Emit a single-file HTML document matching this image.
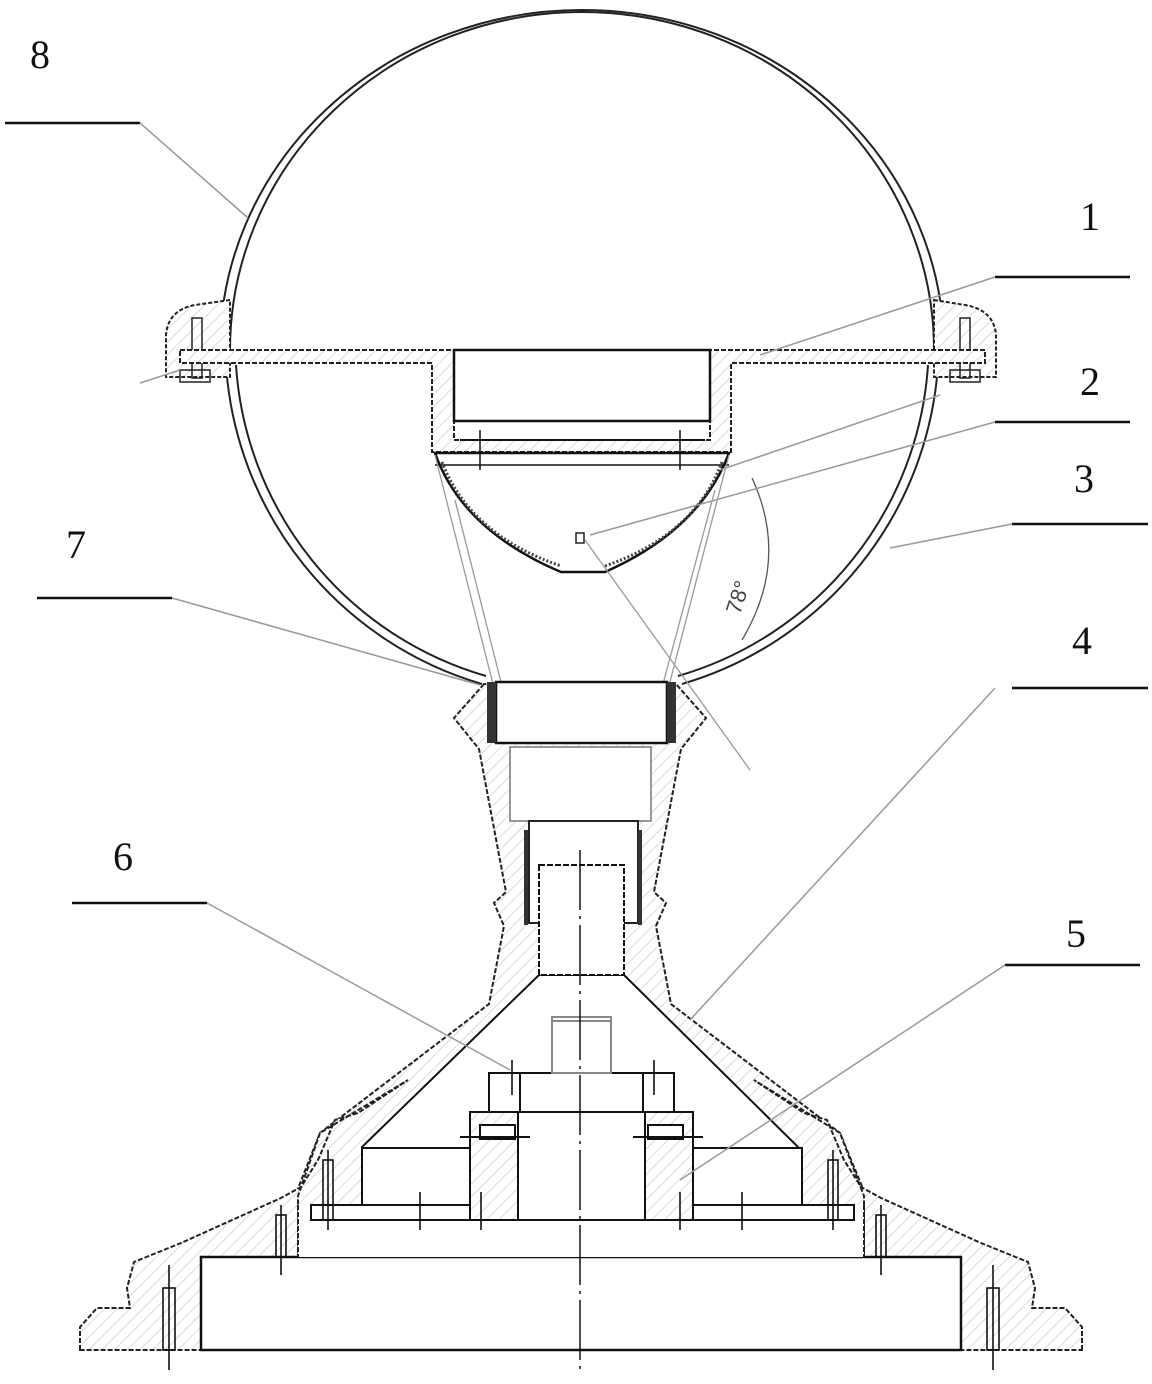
<!DOCTYPE html>
<html><head><style>
html,body{margin:0;padding:0;background:#fff;}
svg{display:block;}
text{font-family:"Liberation Serif",serif;font-size:40px;fill:#111;}
</style></head><body>
<svg width="1152" height="1384" viewBox="0 0 1152 1384" xmlns="http://www.w3.org/2000/svg">
<defs>
<pattern id="h" width="9" height="9" patternUnits="userSpaceOnUse" patternTransform="rotate(45)">
<rect width="9" height="9" fill="#fff"/><line x1="0" y1="0" x2="0" y2="9" stroke="#c8c8c8" stroke-width="1.3"/>
</pattern>
</defs>

<!-- Sphere -->
<path d="M230,350 A352,338 0 1 1 934,350" fill="none" stroke="#222" stroke-width="2"/>
<path d="M220,350 A362,340 0 1 1 944,350" fill="none" stroke="#222" stroke-width="2"/>
<path d="M226,365 A357,357 0 0 0 482,684" fill="none" stroke="#222" stroke-width="2"/>
<path d="M236,365 A347,347 0 0 0 486,676" fill="none" stroke="#222" stroke-width="2"/>
<path d="M938,365 A357,357 0 0 1 682,684" fill="none" stroke="#222" stroke-width="2"/>
<path d="M928,365 A347,347 0 0 1 678,676" fill="none" stroke="#222" stroke-width="2"/>

<!-- Ears -->
<path d="M230,300 L195,305 Q168,310 166,335 L166,377 L230,377 Z" fill="url(#h)" stroke="#222" stroke-width="2" stroke-dasharray="4,2"/>
<path d="M934,300 L965,305 Q994,310 996,335 L996,377 L934,377 Z" fill="url(#h)" stroke="#222" stroke-width="2" stroke-dasharray="4,2"/>
<rect x="192" y="318" width="10" height="60" fill="none" stroke="#222" stroke-width="1.5"/>
<rect x="960" y="318" width="10" height="60" fill="none" stroke="#222" stroke-width="1.5"/>
<rect x="180" y="370" width="30" height="12" fill="none" stroke="#222" stroke-width="1.5"/>
<rect x="950" y="370" width="30" height="12" fill="none" stroke="#222" stroke-width="1.5"/>

<!-- Flange with cup -->
<path d="M180,350 L454,350 L454,440 L710,440 L710,350 L985,350 L985,363 L731,363 L731,452 L432,452 L432,363 L180,363 Z" fill="url(#h)" stroke="#222" stroke-width="2" stroke-dasharray="5,2"/>
<rect x="454" y="350" width="256" height="71" fill="#fff" stroke="#111" stroke-width="2.5"/>
<line x1="460" y1="440" x2="705" y2="440" stroke="#111" stroke-width="2"/>
<line x1="480" y1="430" x2="480" y2="470" stroke="#111" stroke-width="1.5"/>
<line x1="680" y1="430" x2="680" y2="470" stroke="#111" stroke-width="1.5"/>
<line x1="435" y1="465" x2="729" y2="465" stroke="#111" stroke-width="1.5"/>
<!-- Bowl -->
<path d="M435,453 L729,453 Q700,530 605,572 L561,572 Q462,530 435,453 Z" fill="none" stroke="#111" stroke-width="2.5"/>
<path d="M442,462 Q470,535 561,566 M605,566 Q695,535 722,462" fill="none" stroke="#444" stroke-width="3" stroke-dasharray="2,2"/>
<rect x="576" y="533" width="8" height="10" fill="none" stroke="#222" stroke-width="1.5"/>

<!-- Light rays -->
<g stroke="#999" stroke-width="1.3" fill="none">
<line x1="435" y1="455" x2="578" y2="1020"/>
<line x1="729" y1="455" x2="582" y2="1020"/>
<line x1="455" y1="500" x2="575" y2="975"/>
<line x1="715" y1="490" x2="585" y2="975"/>
<line x1="585" y1="540" x2="750" y2="770"/>
<path d="M752,478 Q790,560 742,640" stroke="#555"/>
</g>
<text x="720" y="608" transform="rotate(-72 735 598)" style="font-size:22px;font-family:'Liberation Sans',sans-serif;fill:#444">78°</text>

<!-- Neck -->
<path d="M484,684 L454,718 L479,749 L506,892 L494,903 L504,926 L489,1004 L320,1133 L295,1196 L298,1257 L864,1257 L866,1196 L840,1133 L671,1004 L656,926 L666,903 L654,892 L681,749 L706,718 L676,684 Z" fill="url(#h)" stroke="#222" stroke-width="2" stroke-dasharray="5,2"/>
<path d="M539,975 L362,1147 L362,1257 L798,1257 L798,1147 L624,975 Z" fill="#fff" stroke="#111" stroke-width="2"/>
<rect x="496" y="682" width="171" height="61" fill="#fff" stroke="#111" stroke-width="2.5"/>
<rect x="487" y="682" width="9" height="61" fill="#333"/>
<rect x="667" y="682" width="9" height="61" fill="#333"/>
<rect x="510" y="747" width="141" height="74" fill="#fff" stroke="#777" stroke-width="1.5"/>
<rect x="529" y="821" width="109" height="102" fill="#fff" stroke="#222" stroke-width="2"/>
<rect x="539" y="865" width="85" height="110" fill="#fff" stroke="#111" stroke-width="2" stroke-dasharray="6,2"/>
<line x1="526" y1="830" x2="526" y2="925" stroke="#333" stroke-width="4"/>
<line x1="640" y1="830" x2="640" y2="925" stroke="#333" stroke-width="4"/>

<!-- Base -->
<path d="M80,1350 L80,1327 L97,1308 L130,1308 L127,1288 L134,1262 L181,1243 L281,1198 L301,1187 L318,1160 L335,1120 L358,1113 L408,1080 L320,1133 L298,1196 L298,1257 L201,1257 L201,1350 Z" fill="url(#h)" stroke="#222" stroke-width="2" stroke-dasharray="5,2"/>
<path d="M1082,1350 L1082,1327 L1065,1308 L1032,1308 L1035,1288 L1028,1262 L981,1243 L881,1198 L861,1187 L844,1160 L827,1120 L804,1113 L754,1080 L840,1133 L864,1196 L864,1257 L961,1257 L961,1350 Z" fill="url(#h)" stroke="#222" stroke-width="2" stroke-dasharray="5,2"/>
<rect x="201" y="1257" width="760" height="93" fill="#fff" stroke="#111" stroke-width="2.5"/>
<rect x="298" y="1205" width="566" height="52" fill="#fff" stroke="none"/>
<line x1="298" y1="1205" x2="298" y2="1257" stroke="#222" stroke-width="2" stroke-dasharray="5,2"/>
<line x1="864" y1="1205" x2="864" y2="1257" stroke="#222" stroke-width="2" stroke-dasharray="5,2"/>

<!-- Internal parts -->
<rect x="362" y="1148" width="108" height="57" fill="#fff" stroke="#111" stroke-width="2"/>
<rect x="693" y="1148" width="109" height="57" fill="#fff" stroke="#111" stroke-width="2"/>
<rect x="311" y="1205" width="543" height="15" fill="#fff" stroke="#111" stroke-width="2"/>
<rect x="470" y="1112" width="223" height="108" fill="#fff" stroke="#111" stroke-width="2"/>
<rect x="470" y="1112" width="48" height="108" fill="url(#h)" stroke="#111" stroke-width="2"/>
<rect x="645" y="1112" width="48" height="108" fill="url(#h)" stroke="#111" stroke-width="2"/>
<rect x="480" y="1125" width="35" height="14" fill="#fff" stroke="#111" stroke-width="2"/>
<rect x="648" y="1125" width="35" height="14" fill="#fff" stroke="#111" stroke-width="2"/>
<line x1="460" y1="1137" x2="530" y2="1137" stroke="#111" stroke-width="2"/>
<line x1="633" y1="1137" x2="703" y2="1137" stroke="#111" stroke-width="2"/>
<rect x="489" y="1073" width="185" height="39" fill="#fff" stroke="#111" stroke-width="2"/>
<line x1="520" y1="1073" x2="520" y2="1112" stroke="#111" stroke-width="2"/>
<line x1="643" y1="1073" x2="643" y2="1112" stroke="#111" stroke-width="2"/>
<rect x="552" y="1017" width="59" height="56" fill="#fff" stroke="#888" stroke-width="2"/>
<line x1="552" y1="1021" x2="611" y2="1021" stroke="#888" stroke-width="2"/>

<!-- bolts -->
<g stroke="#111" stroke-width="1.6" fill="none">
<rect x="323" y="1160" width="10" height="60"/><line x1="328" y1="1150" x2="328" y2="1230"/>
<rect x="828" y="1160" width="10" height="60"/><line x1="833" y1="1150" x2="833" y2="1230"/>
<rect x="276" y="1215" width="10" height="42"/><line x1="281" y1="1205" x2="281" y2="1275"/>
<rect x="876" y="1215" width="10" height="42"/><line x1="881" y1="1205" x2="881" y2="1275"/>
<rect x="163" y="1288" width="12" height="62"/><line x1="169" y1="1265" x2="169" y2="1370"/>
<rect x="987" y="1288" width="12" height="62"/><line x1="993" y1="1265" x2="993" y2="1370"/>
<line x1="420" y1="1192" x2="420" y2="1230"/><line x1="742" y1="1192" x2="742" y2="1230"/>
<line x1="481" y1="1192" x2="481" y2="1230"/><line x1="680" y1="1192" x2="680" y2="1230"/>
<line x1="512" y1="1060" x2="512" y2="1095"/><line x1="654" y1="1060" x2="654" y2="1095"/>
</g>

<!-- Centre axis -->
<line x1="580" y1="850" x2="580" y2="1375" stroke="#111" stroke-width="1.5" stroke-dasharray="60,6,3,6"/>

<!-- Leaders -->
<g stroke="#111" stroke-width="2.5">
<line x1="5" y1="123" x2="140" y2="123"/>
<line x1="995" y1="277" x2="1130" y2="277"/>
<line x1="995" y1="422" x2="1130" y2="422"/>
<line x1="1012" y1="524" x2="1148" y2="524"/>
<line x1="37" y1="598" x2="172" y2="598"/>
<line x1="1012" y1="688" x2="1148" y2="688"/>
<line x1="72" y1="903" x2="207" y2="903"/>
<line x1="1005" y1="965" x2="1140" y2="965"/>
</g>
<g stroke="#999" stroke-width="1.5">
<line x1="140" y1="123" x2="248" y2="218"/>
<line x1="995" y1="277" x2="760" y2="355"/>
<line x1="995" y1="422" x2="590" y2="535"/>
<line x1="940" y1="395" x2="720" y2="470"/>
<line x1="1012" y1="524" x2="890" y2="548"/>
<line x1="172" y1="598" x2="480" y2="685"/>
<line x1="995" y1="688" x2="690" y2="1020"/>
<line x1="207" y1="903" x2="510" y2="1070"/>
<line x1="1005" y1="965" x2="680" y2="1180"/>
<line x1="140" y1="383" x2="180" y2="370"/>
</g>

<text x="30" y="68">8</text>
<text x="1080" y="230">1</text>
<text x="1080" y="395">2</text>
<text x="1074" y="492">3</text>
<text x="66" y="558">7</text>
<text x="1072" y="654">4</text>
<text x="113" y="870">6</text>
<text x="1066" y="947">5</text>
</svg>
</body></html>
